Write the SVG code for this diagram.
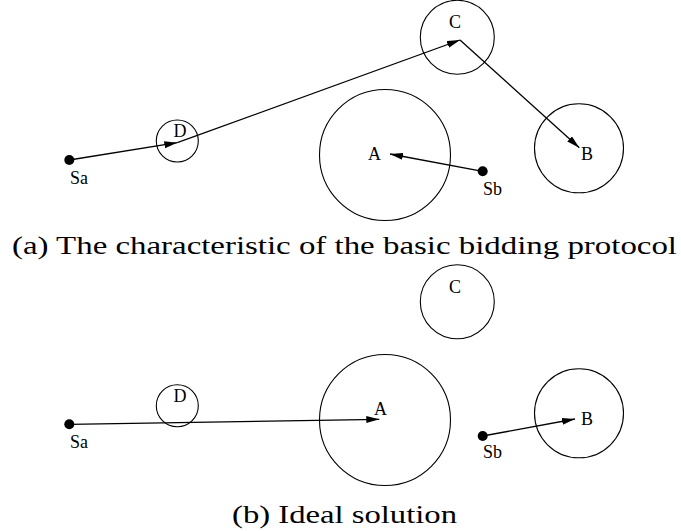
<svg xmlns="http://www.w3.org/2000/svg" width="681" height="531" viewBox="0 0 681 531">
<style>
  .zone { fill: none; stroke: #000; stroke-width: 1.1; }
  .dot { fill: #000; }
  .lbl { font-family: "Liberation Serif", "Times New Roman", serif; font-size: 18px; fill: #000; }
  .cap { font-family: "Liberation Serif", "Times New Roman", serif; font-size: 25px; fill: #000; }
  .edge { fill: none; stroke: #000; stroke-width: 1.3; marker-end: url(#arr); }
</style>
<defs>
  <marker id="arr" markerUnits="userSpaceOnUse" markerWidth="14" markerHeight="8" refX="13" refY="3.5" orient="auto">
    <path d="M0,0 L13,3.5 L0,7 z" fill="#000"/>
  </marker>
</defs>
<rect width="681" height="531" fill="#fff"/>

<!-- Panel (a) -->
<g id="a-A"><circle class="zone" cx="385" cy="155" r="65.5"/><text class="lbl" x="368" y="160">A</text></g>
<g id="a-B"><circle class="zone" cx="579" cy="148.3" r="44.5"/><text class="lbl" x="581" y="160">B</text></g>
<g id="a-C"><circle class="zone" cx="457.3" cy="37.3" r="37"/><text class="lbl" x="455" y="28" text-anchor="middle">C</text></g>
<g id="a-D"><circle class="zone" cx="177.3" cy="141" r="21"/><text class="lbl" x="180" y="137" text-anchor="middle">D</text></g>
<g id="a-Sa"><circle class="dot" cx="69.3" cy="160" r="5"/><text class="lbl" x="70" y="184">Sa</text></g>
<g id="a-Sb"><circle class="dot" cx="482.7" cy="171.3" r="5"/><text class="lbl" x="483" y="195">Sb</text></g>

<!-- Panel (b) -->
<g id="b-A"><circle class="zone" cx="385" cy="420" r="65.5"/><text class="lbl" x="374" y="415">A</text></g>
<g id="b-B"><circle class="zone" cx="579" cy="413.3" r="44.5"/><text class="lbl" x="581" y="425">B</text></g>
<g id="b-C"><circle class="zone" cx="457.3" cy="301.7" r="37"/><text class="lbl" x="455" y="293" text-anchor="middle">C</text></g>
<g id="b-D"><circle class="zone" cx="177.3" cy="405.7" r="21"/><text class="lbl" x="180" y="401.7" text-anchor="middle">D</text></g>
<g id="b-Sa"><circle class="dot" cx="69.3" cy="424.3" r="5"/><text class="lbl" x="70" y="448">Sa</text></g>
<g id="b-Sb"><circle class="dot" cx="482.7" cy="436" r="5"/><text class="lbl" x="483" y="458">Sb</text></g>

<g id="connectors">
  <line class="edge" x1="69.3" y1="160" x2="177.3" y2="142.7"/>
  <line class="edge" x1="177.3" y1="142.7" x2="460" y2="40"/>
  <line class="edge" x1="460" y1="40" x2="579.3" y2="147.7"/>
  <line class="edge" x1="482.7" y1="171.3" x2="390" y2="154"/>
  <line class="edge" x1="69.3" y1="424.3" x2="379.3" y2="419.3"/>
  <line class="edge" x1="482.7" y1="436" x2="575" y2="419"/>
</g>

<text class="cap" x="12" y="254" textLength="665" lengthAdjust="spacingAndGlyphs">(a) The characteristic of the basic bidding protocol</text>
<text class="cap" x="232" y="523" textLength="225" lengthAdjust="spacingAndGlyphs">(b) Ideal solution</text>
</svg>
